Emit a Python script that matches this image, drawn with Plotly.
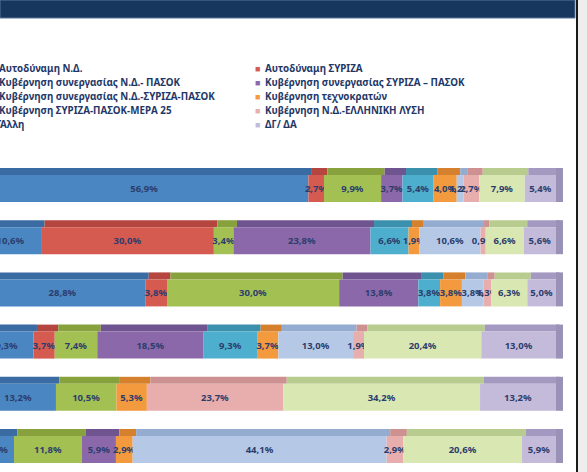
import numpy as np
import plotly.graph_objects as go

# ---------------- data ----------------
groups = ["Ψηφοφόροι Ν.Δ.", "Ψηφοφόροι ΣΥΡΙΖΑ", "Ψηφοφόροι ΚΙΝΑΛ",
          "Ψηφοφόροι ΚΚΕ", "Ψηφοφόροι ΕΛΛΗΝΙΚΗ ΛΥΣΗ", "Ψηφοφόροι ΜέΡΑ 25"]

series_names = [
    "Αυτοδύναμη Ν.Δ.",
    "Αυτοδύναμη ΣΥΡΙΖΑ",
    "Κυβέρνηση συνεργασίας Ν.Δ.- ΠΑΣΟΚ",
    "Κυβέρνηση συνεργασίας ΣΥΡΙΖΑ – ΠΑΣΟΚ",
    "Κυβέρνηση συνεργασίας Ν.Δ.-ΣΥΡΙΖΑ-ΠΑΣΟΚ",
    "Κυβέρνηση τεχνοκρατών",
    "Κυβέρνηση ΣΥΡΙΖΑ-ΠΑΣΟΚ-ΜΕΡΑ 25",
    "Κυβέρνηση Ν.Δ.-ΕΛΛΗΝΙΚΗ ΛΥΣΗ",
    "Άλλη",
    "ΔΓ/ ΔΑ",
]

nd_alone        = [56.9, 10.6, 28.8, 9.3, 13.2, 5.9]
syriza_alone    = [2.7, 30.0, 3.8, 3.7, 0.0, 0.0]
nd_pasok        = [9.9, 3.4, 30.0, 7.4, 10.5, 11.8]
syriza_pasok    = [3.7, 23.8, 13.8, 18.5, 0.0, 5.9]
nd_syriza_pasok = [5.4, 6.6, 3.8, 9.3, 0.0, 0.0]
technocrats     = [4.0, 1.9, 3.8, 3.7, 5.3, 2.9]
syr_pasok_mera  = [1.2, 10.6, 3.8, 13.0, 0.0, 44.1]
nd_el           = [2.7, 0.9, 1.3, 1.9, 23.7, 2.9]
other           = [7.9, 6.6, 6.3, 20.4, 34.2, 20.6]
dk_na           = [5.4, 5.6, 5.0, 13.0, 13.2, 5.9]

values = [nd_alone, syriza_alone, nd_pasok, syriza_pasok, nd_syriza_pasok,
          technocrats, syr_pasok_mera, nd_el, other, dk_na]

# ---------------- styles ----------------
front_colors = ["#4A86C2", "#D55A50", "#A3C152", "#8B68AA", "#4DAFCD",
                "#F39A3E", "#B5C9E7", "#E8AEAE", "#D9E7B3", "#C4BBDA"]
top_colors = ["#3A6BA3", "#B4463F", "#87A23C", "#6F548F", "#3B90AD",
              "#D4802C", "#95ACD1", "#CD9191", "#B9CC8F", "#A399C1"]
side_color = "#9A91B6"
label_color = "#2C3D6C"
legend_color = "#1F3868"
FONT = "Noto Sans"

W, H = 587, 472
PX_PER_PCT = 5.76
X0_PX = -20.0
Y0_PX, ROW_PX = 188.5, 52.2
FRONT_W = 27 / ROW_PX
TOP_W = 7 / ROW_PX
SHIFT = 3.5 / PX_PER_PCT
DEPTH = 7 / PX_PER_PCT

vals = np.array(values, dtype=float)
totals = vals.sum(axis=0)
norm = vals / totals * 100.0
bases = np.vstack([np.zeros(len(groups)), np.cumsum(norm, axis=0)[:-1]])


def fmt(v):
    return "" if v == 0 else f"{v:.1f}".replace(".", ",") + "%"


fig = go.Figure()

# top (3D) faces
for i in range(len(series_names)):
    fig.add_trace(go.Bar(
        y=groups, x=norm[i], base=bases[i] + SHIFT, orientation="h",
        width=TOP_W, offset=-FRONT_W / 2 - TOP_W,
        marker=dict(color=top_colors[i], line=dict(width=0)),
        showlegend=False, hoverinfo="skip"))

# side face at the right end
fig.add_trace(go.Bar(
    y=groups, x=[DEPTH] * len(groups), base=[100.0] * len(groups),
    orientation="h", width=FRONT_W + TOP_W, offset=-FRONT_W / 2 - TOP_W,
    marker=dict(color=side_color, line=dict(width=0)),
    showlegend=False, hoverinfo="skip"))

# front faces with labels
for i, name in enumerate(series_names):
    fig.add_trace(go.Bar(
        y=groups, x=norm[i], base=bases[i], orientation="h", name=name,
        width=FRONT_W, offset=-FRONT_W / 2,
        marker=dict(color=front_colors[i], line=dict(width=0)),
        text=[fmt(v) for v in values[i]], textposition="inside",
        insidetextanchor="middle", textangle=0,
        textfont=dict(family=FONT, size=9.5, color=label_color, weight="bold"),
        showlegend=False))

# axis ranges mapped so that the chart is cropped like the reference
x_lo = (0 - X0_PX) / PX_PER_PCT
x_hi = (W - X0_PX) / PX_PER_PCT
y_top = (0 - Y0_PX) / ROW_PX
y_bot = (H - Y0_PX) / ROW_PX

fig.update_layout(
    width=W, height=H, barmode="overlay",
    margin=dict(l=0, r=0, t=0, b=0, autoexpand=False),
    paper_bgcolor="white", plot_bgcolor="white",
    uniformtext=dict(minsize=9.5, mode="show"),
    xaxis=dict(range=[x_lo, x_hi], visible=False, fixedrange=True),
    yaxis=dict(type="category", categoryorder="array", categoryarray=groups,
               range=[y_bot, y_top], visible=False, fixedrange=True),
    showlegend=False,
)

# legend (two columns, row-major as in the original)
annotations = []
for i, name in enumerate(series_names):
    col, row = i % 2, i // 2
    ty = 1 - (68.5 + 14 * row) / H
    tx = (-3 if col == 0 else 263) / W
    mx = (-9 if col == 0 else 257) / W
    annotations.append(dict(
        x=mx, y=ty, xref="paper", yref="paper", xanchor="center", yanchor="middle",
        text="■", showarrow=False,
        font=dict(family=FONT, size=9, color=front_colors[i])))
    annotations.append(dict(
        x=tx, y=ty, xref="paper", yref="paper", xanchor="left", yanchor="middle",
        text=name, showarrow=False,
        font=dict(family=FONT, size=9.8, color=legend_color, weight="bold")))
fig.update_layout(annotations=annotations)

# title band, frame edge
fig.update_layout(shapes=[
    dict(type="rect", xref="paper", yref="paper", x0=0, x1=575 / W,
         y0=1 - 18 / H, y1=1, fillcolor="#17375E",
         line=dict(color="#5A7598", width=1), layer="above"),
    dict(type="rect", xref="paper", yref="paper", x0=578 / W, x1=1,
         y0=0, y1=1, fillcolor="#EEEEEE", line=dict(width=0), layer="above"),
    dict(type="line", xref="paper", yref="paper", x0=577 / W, x1=577 / W,
         y0=0, y1=1, line=dict(color="#1A1A1A", width=2), layer="above"),
])

fig.write_html(
    "out.html",
    config={"displayModeBar": False, "staticPlot": True},
    post_script="document.body.style.margin='0px';document.body.style.overflow='hidden';",
)
